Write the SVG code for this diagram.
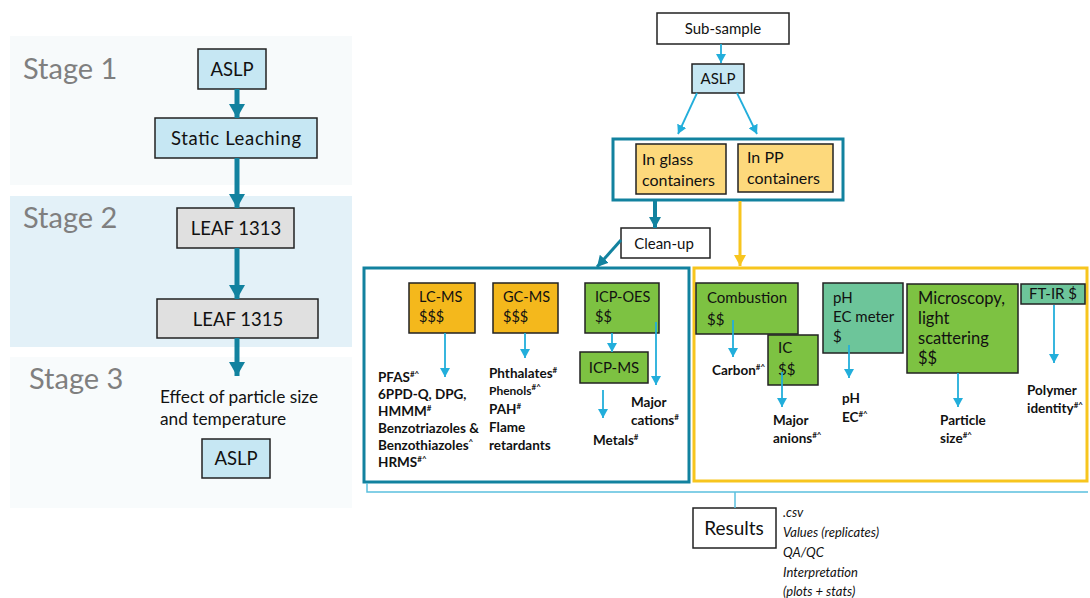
<svg xmlns="http://www.w3.org/2000/svg" width="1090" height="598" viewBox="0 0 1090 598">
<defs>
<style>
text{font-family:Lato,"Open Sans","Liberation Sans",sans-serif;fill:#111}
.stage{font-size:29px;fill:#7f7f7f}
.bx{stroke:#222;stroke-width:1.5}
.lb{fill:#c6e7f3}
.gr{fill:#e0e0e0}
.wh{fill:#fff}
.gold{fill:#fdd97c}
.or{fill:#f4b81c}
.gn{fill:#7dc242}
.tg{fill:#6dc59a}
.t18{font-size:18.5px}
.t15{font-size:15px}
.t14{font-size:14.5px}
.b{font-size:13.5px;font-weight:bold}
.sup{font-size:8px;font-weight:bold}
.thick{stroke:#12829f;stroke-width:5;fill:none}
.thin{stroke:#22aedb;stroke-width:1.8;fill:none}
.it{font-size:13px;font-style:italic}
</style>
<marker id="ah" markerUnits="userSpaceOnUse" markerWidth="16" markerHeight="16" refX="14" refY="8" orient="auto"><path d="M0,0 L14,8 L0,16 z" fill="#12829f"/></marker>
<marker id="ahm" markerUnits="userSpaceOnUse" markerWidth="12" markerHeight="12" refX="11" refY="6" orient="auto"><path d="M0,0 L11,6 L0,12 z" fill="#12829f"/></marker>
<marker id="ay" markerUnits="userSpaceOnUse" markerWidth="12" markerHeight="12" refX="11" refY="6" orient="auto"><path d="M0,0 L11,6 L0,12 z" fill="#f7c51e"/></marker>
<marker id="ac" markerUnits="userSpaceOnUse" markerWidth="10" markerHeight="10" refX="9" refY="5" orient="auto"><path d="M0,0 L9,5 L0,10 z" fill="#22aedb"/></marker>
</defs>
<rect width="1090" height="598" fill="#fff"/>

<!-- stage bands -->
<g id="bands">
<rect x="10" y="36" width="342" height="149" fill="#f7fafb"/>
<rect x="10" y="196" width="342" height="151" fill="#e3f1f8"/>
<rect x="10" y="357" width="342" height="151" fill="#f8fbfc"/>
<text class="stage" x="23" y="79">Stage 1</text>
<text class="stage" x="23" y="228">Stage 2</text>
<text class="stage" x="29" y="389">Stage 3</text>
</g>

<!-- left nodes -->
<g id="n-aslp1"><rect class="bx lb" x="198" y="49" width="68" height="40"/><text class="t18" x="232" y="76" text-anchor="middle">ASLP</text></g>
<g id="n-static"><rect class="bx lb" x="155" y="118" width="162" height="40"/><text class="t18" x="236" y="145" text-anchor="middle" textLength="130">Static Leaching</text></g>
<g id="n-leaf1313"><rect class="bx gr" x="177" y="208" width="117" height="40"/><text class="t18" x="236" y="235" text-anchor="middle">LEAF 1313</text></g>
<g id="n-leaf1315"><rect class="bx gr" x="157" y="299" width="161" height="39"/><text class="t18" x="238" y="326" text-anchor="middle">LEAF 1315</text></g>
<g id="n-effect"><text x="160" y="403" style="font-size:17.3px">Effect of particle size</text><text x="160" y="425" style="font-size:17.3px">and temperature</text></g>
<g id="n-aslp3"><rect class="bx lb" x="202" y="439" width="68" height="39"/><text class="t18" x="236" y="465" text-anchor="middle">ASLP</text></g>

<!-- right top -->
<g id="n-subsample"><rect class="bx wh" x="657" y="13" width="132" height="31"/><text class="t15" x="723" y="34" text-anchor="middle">Sub-sample</text></g>
<g id="n-aslp2"><rect class="bx lb" x="692" y="64" width="52" height="29"/><text class="t15" x="718" y="84" text-anchor="middle">ASLP</text></g>
<g id="n-containers">
<rect x="613" y="139" width="230" height="61" fill="#fff" stroke="#12829f" stroke-width="3"/>
<rect class="bx gold" x="636" y="144" width="90" height="50"/>
<text x="642" y="165" style="font-size:16px">In glass</text><text x="642" y="186" style="font-size:16px">containers</text>
<rect class="bx gold" x="738" y="144" width="95" height="48"/>
<text x="747" y="163" style="font-size:16px">In PP</text><text x="747" y="184" style="font-size:16px">containers</text>
</g>
<g id="n-cleanup"><rect class="bx wh" x="621" y="228" width="89" height="30"/><text class="t15" x="664" y="249" text-anchor="middle">Clean-up</text></g>

<!-- blue group -->
<g id="g-organic">
<rect x="364" y="268" width="325" height="214" fill="#fff" stroke="#12829f" stroke-width="3"/>
</g>
<g id="n-lcms"><rect class="bx or" x="409" y="283" width="66" height="50"/><text class="t14" x="419" y="302">LC-MS</text><text class="t14" x="419" y="322">$$$</text></g>
<g id="n-gcms"><rect class="bx or" x="493" y="283" width="65" height="50"/><text class="t14" x="503" y="302">GC-MS</text><text class="t14" x="503" y="322">$$$</text></g>
<g id="n-lcms-out">
<text class="b" x="378" y="382">PFAS<tspan class="sup" dy="-5">#^</tspan></text>
<text class="b" x="378" y="399">6PPD-Q, DPG,</text>
<text class="b" x="378" y="416">HMMM<tspan class="sup" dy="-5">#</tspan></text>
<text class="b" x="378" y="433">Benzotriazoles &amp;</text>
<text class="b" x="378" y="450">Benzothiazoles<tspan class="sup" dy="-5">^</tspan></text>
<text class="b" x="378" y="467">HRMS<tspan class="sup" dy="-5">#^</tspan></text>
</g>
<g id="n-gcms-out">
<text class="b" x="489" y="378">Phthalates<tspan class="sup" dy="-5">#</tspan></text>
<text class="b" x="489" y="395" style="font-size:12px">Phenols<tspan class="sup" dy="-5">#^</tspan></text>
<text class="b" x="489" y="414">PAH<tspan class="sup" dy="-5">#</tspan></text>
<text class="b" x="489" y="432">Flame</text>
<text class="b" x="489" y="450">retardants</text>
</g>
<g id="n-icpoes"><rect class="bx gn" x="585" y="283" width="74" height="50"/><text class="t14" x="595" y="302">ICP-OES</text><text class="t14" x="595" y="322">$$</text></g>
<g id="n-icpms"><rect class="bx gn" x="580" y="352" width="68" height="31"/><text class="t15" x="614" y="373" text-anchor="middle">ICP-MS</text></g>
<g id="n-icp-out">
<text class="b" x="631" y="407">Major</text>
<text class="b" x="631" y="425">cations<tspan class="sup" dy="-5">#</tspan></text>
<text class="b" x="593" y="445">Metals<tspan class="sup" dy="-5">#</tspan></text>
</g>

<!-- yellow group -->
<g id="g-physchem">
<rect x="694" y="268" width="393" height="213" fill="#fff" stroke="#f7c51e" stroke-width="3"/>
</g>
<g id="n-combustion"><rect class="bx gn" x="696" y="283" width="102" height="51"/><text class="t15" x="707" y="303">Combustion</text><text class="t15" x="707" y="325">$$</text></g>
<g id="n-carbon"><text class="b" x="712" y="375">Carbon<tspan class="sup" dy="-5">#^</tspan></text></g>
<g id="n-ic"><rect class="bx gn" x="768" y="335" width="50" height="50"/><text class="t15" x="778" y="353">IC</text><text class="t15" x="778" y="375">$$</text></g>
<g id="n-anions"><text class="b" x="773" y="425">Major</text><text class="b" x="773" y="443">anions<tspan class="sup" dy="-5">#^</tspan></text></g>
<g id="n-ph"><rect class="bx tg" x="823" y="283" width="80" height="70"/><text class="t15" x="833" y="303">pH</text><text class="t15" x="833" y="322">EC meter</text><text class="t15" x="833" y="342">$</text></g>
<g id="n-ph-out"><text class="b" x="842" y="403">pH</text><text class="b" x="842" y="422">EC<tspan class="sup" dy="-5">#^</tspan></text></g>
<g id="n-micro"><rect class="bx gn" x="907" y="284" width="111" height="89"/><g style="font-size:16.5px"><text x="918" y="304">Microscopy,</text><text x="918" y="324">light</text><text x="918" y="344">scattering</text><text x="918" y="364">$$</text></g></g>
<g id="n-particle"><text class="b" x="940" y="425">Particle</text><text class="b" x="940" y="443">size<tspan class="sup" dy="-5">#^</tspan></text></g>
<g id="n-ftir"><rect class="bx tg" x="1021" y="284" width="64" height="20"/><text class="t15" x="1053" y="299" text-anchor="middle">FT-IR $</text></g>
<g id="n-polymer"><text class="b" x="1027" y="395">Polymer</text><text class="b" x="1027" y="413">identity<tspan class="sup" dy="-5">#^</tspan></text></g>

<!-- results -->
<g id="n-results"><rect class="bx wh" x="693" y="508" width="83" height="40"/><text x="734" y="535" text-anchor="middle" style="font-size:19px">Results</text></g>
<g id="n-results-notes">
<text class="it" x="783" y="517">.csv</text>
<text class="it" x="783" y="537">Values (replicates)</text>
<text class="it" x="783" y="557">QA/QC</text>
<text class="it" x="783" y="577">Interpretation</text>
<text class="it" x="783" y="596">(plots + stats)</text>
</g>

<g id="connectors">
<line class="thick" x1="237" y1="89" x2="237" y2="118" marker-end="url(#ah)"/>
<line class="thick" x1="237" y1="158" x2="237" y2="208" marker-end="url(#ah)"/>
<line class="thick" x1="237" y1="248" x2="237" y2="299" marker-end="url(#ah)"/>
<line class="thick" x1="237" y1="338" x2="237" y2="376" marker-end="url(#ah)"/>
<line class="thin" x1="721" y1="44" x2="721" y2="63" marker-end="url(#ac)"/>
<line class="thin" x1="697" y1="93" x2="678" y2="134" marker-end="url(#ac)"/>
<line class="thin" x1="737" y1="93" x2="757" y2="134" marker-end="url(#ac)"/>
<line stroke="#12829f" stroke-width="4" x1="655" y1="201" x2="655" y2="228" marker-end="url(#ahm)"/>
<line stroke="#f7c51e" stroke-width="3" x1="740" y1="201" x2="740" y2="266" marker-end="url(#ay)"/>
<line stroke="#12829f" stroke-width="3" x1="621" y1="240" x2="597" y2="267" marker-end="url(#ahm)"/>
<line class="thin" x1="445" y1="333" x2="445" y2="377" marker-end="url(#ac)"/>
<line class="thin" x1="525" y1="333" x2="525" y2="358" marker-end="url(#ac)"/>
<line class="thin" x1="612" y1="333" x2="612" y2="352" marker-end="url(#ac)"/>
<line class="thin" x1="656" y1="322" x2="656" y2="385" marker-end="url(#ac)"/>
<line class="thin" x1="603" y1="390" x2="603" y2="418" marker-end="url(#ac)"/>
<line class="thin" x1="733" y1="320" x2="733" y2="357" marker-end="url(#ac)"/>
<line class="thin" x1="782" y1="372" x2="782" y2="407" marker-end="url(#ac)"/>
<line class="thin" x1="849" y1="345" x2="849" y2="378" marker-end="url(#ac)"/>
<line class="thin" x1="958" y1="373" x2="958" y2="407" marker-end="url(#ac)"/>
<line class="thin" x1="1054" y1="305" x2="1054" y2="363" marker-end="url(#ac)"/>
<path d="M367,483 V492 H1088 M735,492 V508" stroke="#5bc0de" stroke-width="1.5" fill="none"/>
</g>
</svg>
